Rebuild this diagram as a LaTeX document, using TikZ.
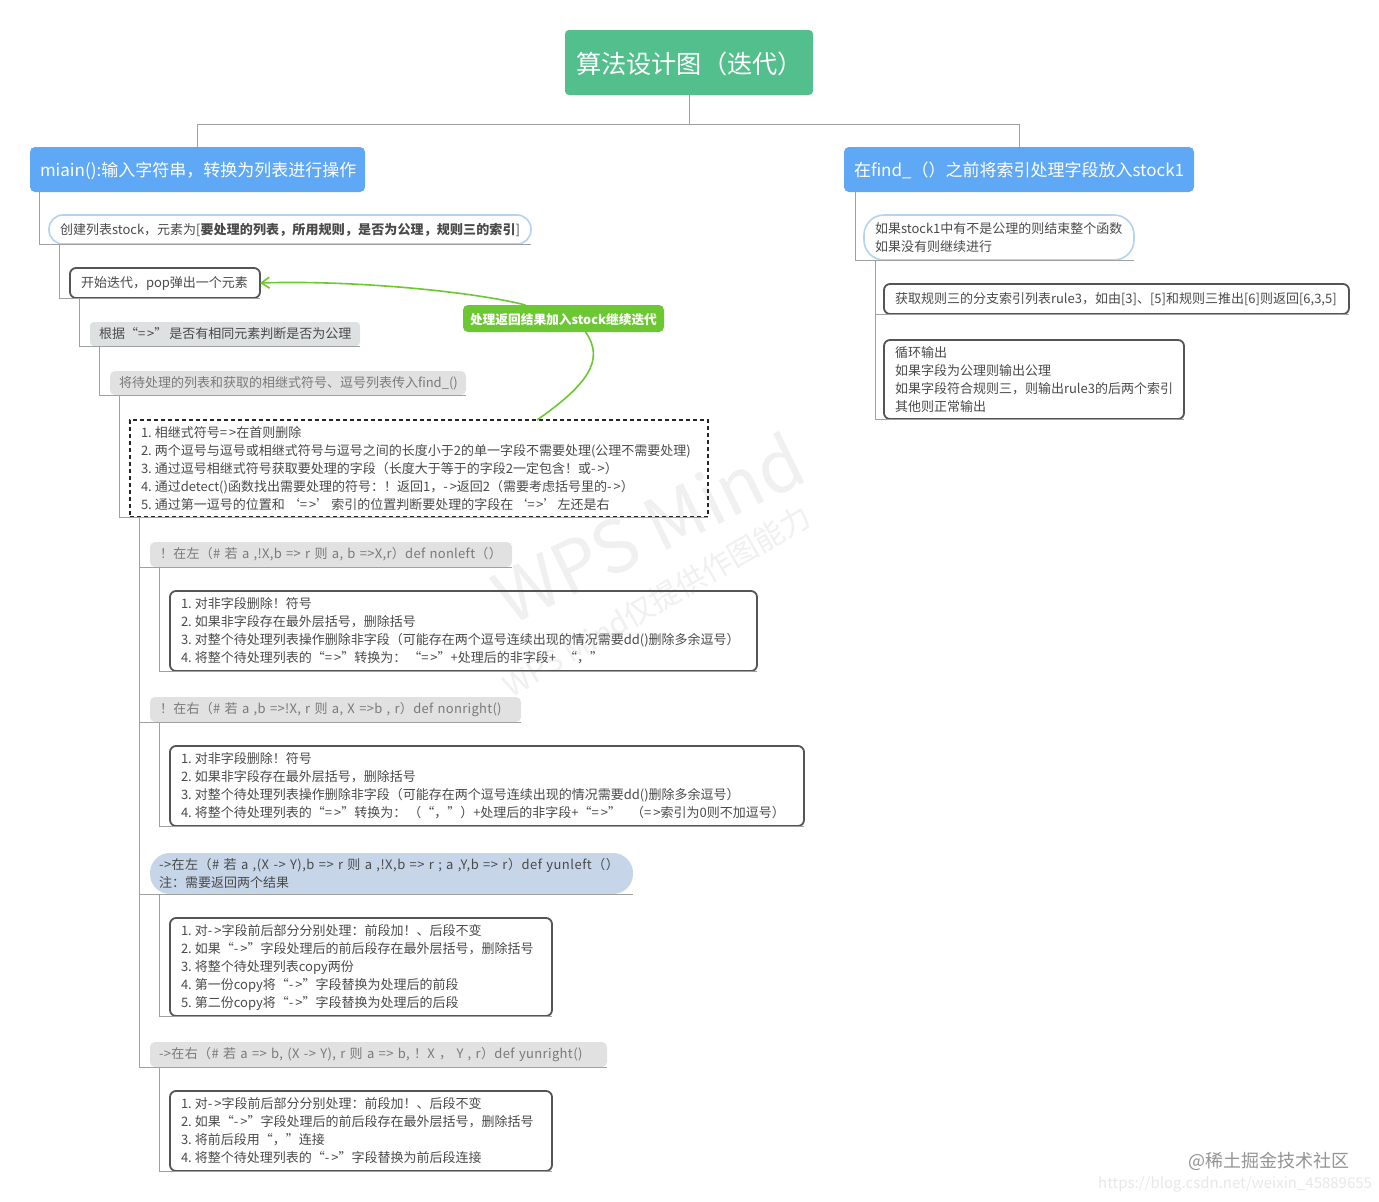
\documentclass[tikz,border=0pt]{standalone}
\usepackage{fontspec}
\setmainfont{Noto Sans CJK SC}
\usetikzlibrary{arrows.meta}
\definecolor{rootc}{HTML}{52BF8C}
\definecolor{bluec}{HTML}{5FA8F5}
\definecolor{pillc}{HTML}{B4D2F2}
\definecolor{darkc}{HTML}{555555}
\definecolor{greyf}{HTML}{E1E1E1}
\definecolor{greyg}{HTML}{DDE1E1}
\definecolor{slate}{HTML}{C6D5E8}
\definecolor{linec}{HTML}{A0A0A0}
\definecolor{greenc}{HTML}{6CC832}
\definecolor{txt}{HTML}{4A4A4A}
\definecolor{txtg}{HTML}{7A7A7A}
\lineskiplimit=-30pt
\tikzset{
  boxbase/.style={anchor=north west,outer sep=0pt,inner ysep=0pt,align=left,text=txt,font=\fontsize{13}{18}\selectfont},
  rootbox/.style={boxbase,fill=rootc,rounded corners=4pt,text=white,align=center,font=\fontsize{25.2}{30}\selectfont},
  topicbox/.style={boxbase,fill=bluec,rounded corners=5pt,text=white,font=\fontsize{17}{22}\selectfont},
  pillbox/.style={boxbase,draw=pillc,line width=1.6pt,rounded corners=14pt},
  pillboxb/.style={boxbase,draw=pillc,line width=1.6pt,rounded corners=20pt},
  darkbox/.style={boxbase,draw=darkc,line width=1.8pt,rounded corners=6pt},
  dashbox/.style={boxbase,draw=black!85,line width=1.6pt,dash pattern=on 4pt off 3pt},
  greybox/.style={boxbase,fill=greyf,rounded corners=5pt,text=txtg},
  sagebox/.style={boxbase,fill=greyg,rounded corners=4pt},
  slatebox/.style={boxbase,fill=slate,rounded corners=20pt},
  notebox/.style={boxbase,fill=greenc,rounded corners=5pt,text=white,font=\fontsize{12.7}{18}\bfseries\selectfont},
  conn/.style={draw=linec,line width=1pt},
  loopline/.style={draw=greenc,line width=1.6pt},
  wm/.style={text=black!6,inner sep=0pt},
  stamp/.style={inner sep=0pt,anchor=west},
}
\def\lift{0pt}
\newcommand\bx[8]{%
  \pgfmathsetmacro\bw{#5-#3}%
  \pgfmathsetmacro\bh{#6-#4}%
  \pgfmathsetmacro\tw{#5-#3-2*#7}%
  \node[#1,minimum width=\bw pt,minimum height=\bh pt,text width=\tw pt,inner xsep=#7pt] (#2) at (#3,#4) {#8\par\vspace{\lift}};%
}
\newcommand\ls{\kern3pt}
\newcommand\ea{=\kern2pt>}
\newcommand\da{-\kern2pt>}
\newcommand\track[2]{{\addfontfeature{LetterSpace=#1}#2}}
\begin{document}
\begin{tikzpicture}[x=1pt,y=-1pt]
\useasboundingbox (0,0) rectangle (1379,1202);
\fill[white] (0,0) rectangle (1379,1202);
% watermark
\node[wm,rotate=26,font=\fontsize{72}{80}\selectfont] (wma) at (648,528) {WPS Mind};
\node[wm,rotate=30,font=\fontsize{30}{36}\selectfont] (wmb) at (657,601) {WPS Mind仅提供作图能力};
% nodes
\def\lift{-2pt}
\bx{rootbox}{root}{565}{30}{813}{95}{11}{算法设计图（迭代）}
\bx{topicbox}{main}{30}{147}{365}{192}{10}{miain():输入字符串，转换为列表进行操作}
\bx{topicbox}{find}{844}{147}{1194}{192}{10}{在find\_（）之前将索引处理字段放入stock1}
\bx{pillbox}{create}{49}{215}{531}{244}{11}{创建列表stock，元素为[\textbf{\track{1}{要处理的列表，所用规则，是否为公理，规则三的索引}}]}
\bx{darkbox}{start}{70}{268}{260}{298}{11}{开始迭代，pop弹出一个元素}
\bx{notebox}{note}{463}{305}{664}{332}{7}{\raisebox{-1pt}{处理返回结果加入stock继续迭代}}
\def\lift{0pt}
\bx{sagebox}{judge}{90}{322}{360}{346}{9}{根据“\ea”\kern2pt 是否有相同元素判断是否为公理}
\bx{greybox}{handoff}{110}{371}{466}{395}{9}{将待处理的列表和获取的相继式符号、逗号列表传入find\_()}
\bx{dashbox}{rules}{130}{420}{708}{517}{11}{1.\ls 相继式符号\ea 在首则删除\\2.\ls 两个逗号与逗号或相继式符号与逗号之间的长度小于2的单一字段不需要处理(公理不需要处理)\\3.\ls 通过逗号相继式符号获取要处理的字段（长度大于等于的字段2一定包含！或\da）\\4.\ls 通过detect()函数找出需要处理的符号：！返回1，\da 返回2（需要考虑括号里的\da）\\5.\ls 通过第一逗号的位置和\kern2pt ‘\ea’\kern2pt 索引的位置判断要处理的字段在\kern1pt ‘\ea’\kern1pt 左还是右}
\bx{greybox}{nl}{150}{542}{512}{567}{10}{\track{2.3}{！在左（\# 若 a ,!X,b => r 则 a, b =>X,r）def nonleft（）}}
\bx{darkbox}{nlbox}{170}{591}{757}{671}{11}{1.\ls 对非字段删除！符号\\2.\ls 如果非字段存在最外层括号，删除括号\\3.\ls 对整个待处理列表操作删除非字段（可能存在两个逗号连续出现的情况需要dd()删除多余逗号）\\4.\ls 将整个待处理列表的“\ea”转换为：\kern2pt “\ea”+处理后的非字段+\kern8pt “，”}
\bx{greybox}{nr}{150}{697}{521}{722}{10}{\track{2.3}{！在右（\# 若 a ,b =>!X, r 则 a, X =>b , r）def nonright()}}
\bx{darkbox}{nrbox}{170}{746}{804}{826}{11}{1.\ls 对非字段删除！符号\\2.\ls 如果非字段存在最外层括号，删除括号\\3.\ls 对整个待处理列表操作删除非字段（可能存在两个逗号连续出现的情况需要dd()删除多余逗号）\\4.\ls 将整个待处理列表的“\ea”转换为：\kern2pt（“，”）+处理后的非字段+“\ea”\kern10pt （\ea 索引为0则不加逗号）}
\bx{slatebox}{yl}{150}{853}{633}{894}{9}{\track{3.8}{->在左（\# 若 a ,(X -> Y),b => r 则 a ,!X,b => r ; a ,Y,b => r）def yunleft（）}\\注：需要返回两个结果}
\bx{darkbox}{ylbox}{170}{918}{552}{1016}{11}{1.\ls 对\da 字段前后部分分别处理：前段加！、后段不变\\2.\ls 如果“\da”字段处理后的前后段存在最外层括号，删除括号\\3.\ls 将整个待处理列表copy两份\\4.\ls 第一份copy将“\da”字段替换为处理后的前段\\5.\ls 第二份copy将“\da”字段替换为处理后的后段}
\bx{greybox}{yr}{150}{1042}{607}{1067}{9}{\track{2.8}{->在右（\# 若 a => b, (X -> Y), r 则 a => b, ！X ， Y , r）def yunright()}}
\bx{darkbox}{yrbox}{170}{1091}{552}{1171}{11}{1.\ls 对\da 字段前后部分分别处理：前段加！、后段不变\\2.\ls 如果“\da”字段处理后的前后段存在最外层括号，删除括号\\3.\ls 将前后段用“，”连接\\4.\ls 将整个待处理列表的“\da”字段替换为前后段连接}
\bx{pillboxb}{ifnode}{864}{215}{1134}{260}{11}{如果stock1中有不是公理的则结束整个函数\\如果没有则继续进行}
\bx{darkbox}{rule3}{884}{284}{1349}{314}{11}{获取规则三的分支索引列表rule3，如由[3]、[5]和规则三推出[6]则返回[6,3,5]}
\bx{darkbox}{loopbox}{884}{340}{1184}{419}{11}{循环输出\\如果字段为公理则输出公理\\如果字段符合规则三，则输出rule3的后两个索引\\其他则正常输出}
% connectors
\coordinate (jn) at (689,124);
\draw[conn] (root.south) -- (jn);
\draw[conn] (jn) -| (main.north);
\draw[conn] (jn) -| (find.north);
\draw[conn] ([xshift=9pt]main.south west) |- (create.south east);
\draw[conn] ([xshift=10pt]create.south west) |- (start.south east);
\draw[conn] ([xshift=9pt]start.south west) |- (judge.south east);
\draw[conn] ([xshift=9pt]judge.south west) |- (handoff.south east);
\draw[conn] ([xshift=9pt]handoff.south west) |- (rules.south east);
\draw[conn] ([xshift=9pt]rules.south west) |- (nl.south east);
\draw[conn] ([xshift=9pt]rules.south west) |- (nr.south east);
\draw[conn] ([xshift=9pt]rules.south west) |- (yl.south east);
\draw[conn] ([xshift=9pt]rules.south west) |- (yr.south east);
\draw[conn] ([xshift=9pt]nl.south west) |- (nlbox.south east);
\draw[conn] ([xshift=9pt]nr.south west) |- (nrbox.south east);
\draw[conn] ([xshift=9pt]yl.south west) |- (ylbox.south east);
\draw[conn] ([xshift=9pt]yr.south west) |- (yrbox.south east);
\draw[conn] ([xshift=11pt]find.south west) |- (ifnode.south east);
\draw[conn] ([xshift=11pt]ifnode.south west) |- (rule3.south east);
\draw[conn] ([xshift=11pt]ifnode.south west) |- (loopbox.south east);
% feedback curves
\draw[loopline] ([xshift=118pt]rules.north) .. controls +(50,-35) and +(20,28) .. ([xshift=22pt]note.south);
\draw[loopline,-{Straight Barb[length=8pt,width=11pt]}] ([xshift=-38pt]note.north) .. controls +(-55,-14) and +(89,-3) .. (start.east);
% footer
\node[stamp,text=black!42,font=\fontsize{18}{22}\selectfont] (site) at (1188,1161) {@稀土掘金技术社区};
\node[stamp,text=black!9,font=\fontsize{15}{18}\selectfont] (url) at (1098,1184) {https://blog.csdn.net/weixin\_45889655};
\end{tikzpicture}
\end{document}
